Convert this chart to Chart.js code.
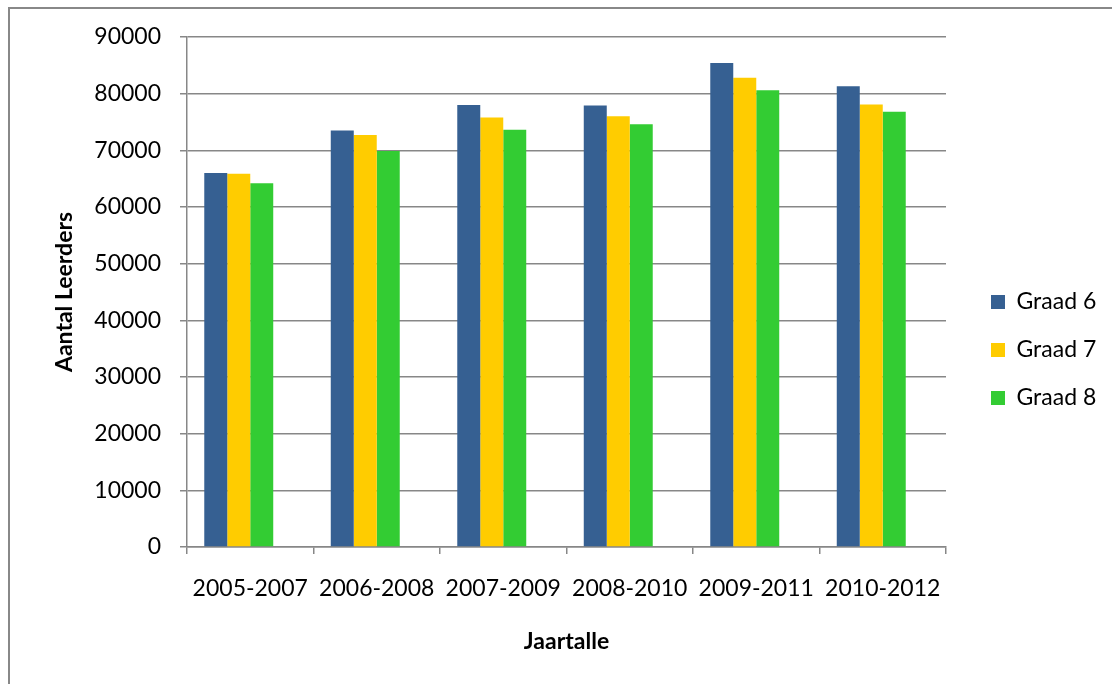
<!DOCTYPE html>
<html>
<head>
<meta charset="utf-8">
<script src="https://cdn.jsdelivr.net/npm/chart.js@4/dist/chart.umd.min.js"></script>
<style>
    body { margin: 0; background: #fff; overflow: hidden; }
    #frame { position: absolute; left: 8px; top: 7px; width: 1200px; height: 800px; border: 2px solid #888; }
    #wrap { position: absolute; left: 0; top: 0; width: 1112px; height: 684px; }
</style>
</head>
<body>
<div id="frame"></div>
<div id="wrap"><canvas id="leerdersChart"></canvas></div>
<script>
var periods = ["2005-2007", "2006-2008", "2007-2009", "2008-2010", "2009-2011", "2010-2012"];
var graad6 = [66000, 73500, 78000, 77900, 85400, 81300];
var graad7 = [65850, 72700, 75800, 76000, 82800, 78100];
var graad8 = [64200, 69900, 73650, 74600, 80600, 76800];

const colors = {
    blue: "#366092",
    yellow: "#FFCC00",
    green: "#33CC33",
    grid: "#878787"
};

Chart.defaults.font.family = "Lato";
Chart.defaults.color = "#000";

// legend sits in its own box on the right, shifted a bit away from the plot
const legendSpot = {
    id: "legendSpot",
    afterInit(chart) {
        const lg = chart.legend;
        const fit = lg.fit;
        lg.fit = function () {
            fit.call(this);
            if (!this.isHorizontal()) this.width = 166;
        };
    },
    afterLayout(chart) {
        chart.legend.left += 20;
        chart.legend.right += 20;
        chart.legend.top += 4;
        chart.legend.bottom += 4;
    }
};

var leerdersChart = new Chart(
    document.getElementById("leerdersChart"),
    {
        type: "bar",
        data: {
            labels: periods,
            datasets: [
                { label: "Graad 6", data: graad6, backgroundColor: colors.blue },
                { label: "Graad 7", data: graad7, backgroundColor: colors.yellow },
                { label: "Graad 8", data: graad8, backgroundColor: colors.green },
                // the original has an empty fourth series, which leaves a gap right of each group
                { label: "", data: [], backgroundColor: "transparent" }
            ]
        },
        options: {
            responsive: true,
            maintainAspectRatio: false,
            animation: false,
            layout: {
                padding: { left: 51, top: 37, right: 0, bottom: 29 }
            },
            datasets: {
                bar: { categoryPercentage: 0.727, barPercentage: 1.0 }
            },
            scales: {
                x: {
                    afterFit: (scale) => { scale.height = 684 - 29 - 547; },
                    grid: {
                        offset: true,
                        drawOnChartArea: false,
                        drawTicks: true,
                        tickLength: 7,
                        color: colors.grid,
                        lineWidth: 1.5
                    },
                    border: { color: colors.grid, width: 1.5 },
                    ticks: { font: { size: 23 }, padding: 21, maxRotation: 0 },
                    title: {
                        display: true,
                        text: "Jaartalle",
                        font: { size: 23, weight: "bold" },
                        padding: { top: 0, bottom: 0 }
                    }
                },
                y: {
                    min: 0,
                    max: 90000,
                    afterFit: (scale) => { scale.width = 187 - 51; },
                    grid: {
                        color: colors.grid,
                        lineWidth: 1.5,
                        tickLength: 7
                    },
                    border: { color: colors.grid, width: 1.5 },
                    ticks: {
                        stepSize: 10000,
                        font: { size: 23 },
                        padding: 19,
                        callback: (value) => String(value)
                    },
                    title: {
                        display: true,
                        text: "Aantal Leerders",
                        font: { size: 23, weight: "bold" },
                        padding: { top: 0, bottom: 0 }
                    }
                }
            },
            plugins: {
                legend: {
                    position: "right",
                    labels: {
                        boxWidth: 14,
                        boxHeight: 14,
                        padding: 25,
                        font: { size: 23 },
                        filter: (item) => item.text !== ""
                    }
                },
                tooltip: { enabled: false }
            }
        },
        plugins: [legendSpot]
    }
);
</script>
</body>
</html>
